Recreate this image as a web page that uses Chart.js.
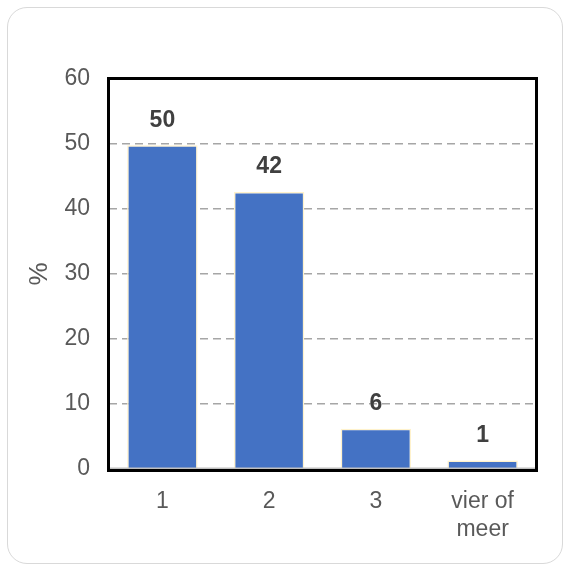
<!DOCTYPE html>
<html lang="nl">
<head>
    <meta charset="UTF-8">
    <title>Aantal</title>
    <script src="https://cdn.jsdelivr.net/npm/chart.js"></script>
    <style>
        html, body { margin: 0; padding: 0; background: #fff; }
        .card {
            position: absolute;
            left: 7px; top: 7px;
            width: 554px; height: 555px;
            border: 1px solid #d9d9d9;
            border-radius: 20px;
        }
        #chart { position: absolute; left: 0; top: 0; }
    </style>
</head>
<body>
    <div class="card"></div>
    <canvas id="chart" width="564" height="565"></canvas>

    <script>
        // data
        const categories = ['1', '2', '3', ['vier of', 'meer']];
        const percentages = [49.8, 42.6, 6.2, 1.3];
        const valueLabels = ['50', '42', '6', '1'];
        const yTicks = [0, 10, 20, 30, 40, 50, 60];

        Chart.defaults.font.family = '"Liberation Sans", Arial, sans-serif';

        // black frame round the plot area, gray axis line at the bottom
        const frame = {
            id: 'frame',
            afterDatasetsDraw(chart) {
                const {ctx, chartArea: a} = chart;
                ctx.save();
                ctx.strokeStyle = '#bfbfbf';
                ctx.lineWidth = 2;
                ctx.beginPath();
                ctx.moveTo(a.left, a.bottom - 0.5);
                ctx.lineTo(a.right, a.bottom - 0.5);
                ctx.stroke();
                ctx.strokeStyle = '#000';
                ctx.lineWidth = 3;
                ctx.strokeRect(a.left - 0.5, a.top - 0.5, a.right - a.left + 1, a.bottom - a.top + 2);
                ctx.restore();
            }
        };

        // value labels above the bars
        const barValues = {
            id: 'barValues',
            afterDatasetsDraw(chart) {
                const {ctx} = chart;
                const meta = chart.getDatasetMeta(0);
                ctx.save();
                ctx.font = 'bold 23px "Liberation Sans", Arial, sans-serif';
                ctx.fillStyle = '#404040';
                ctx.textAlign = 'center';
                ctx.textBaseline = 'middle';
                meta.data.forEach((bar, i) => {
                    ctx.fillText(valueLabels[i], bar.x, bar.y - 25);
                });
                ctx.restore();
            }
        };

        new Chart(document.getElementById('chart'), {
            type: 'bar',
            data: {
                labels: categories,
                datasets: [{
                    data: percentages,
                    backgroundColor: '#4472c4',
                    borderColor: '#fff2cc',
                    borderWidth: 1.5,
                    categoryPercentage: 1,
                    barPercentage: 0.66
                }]
            },
            options: {
                responsive: false,
                animation: false,
                layout: {padding: {left: 0, right: 28, top: 79, bottom: 0}},
                plugins: {
                    legend: {display: false},
                    tooltip: {enabled: false}
                },
                scales: {
                    x: {
                        grid: {display: false},
                        border: {display: false},
                        ticks: {
                            color: '#595959',
                            font: {size: 23, lineHeight: 1.2},
                            padding: 11,
                            maxRotation: 0
                        },
                        afterFit(scale) { scale.height = 96; }
                    },
                    y: {
                        min: 0,
                        max: 60,
                        afterBuildTicks(scale) {
                            scale.ticks = yTicks.map(v => ({value: v}));
                        },
                        grid: {
                            drawTicks: false,
                            lineWidth: 1.5,
                            color: ctx => (ctx.tick && ctx.tick.value > 0 && ctx.tick.value < 60) ? '#a6a6a6' : 'rgba(0,0,0,0)'
                        },
                        border: {display: false, dash: [8, 5]},
                        ticks: {
                            color: '#595959',
                            font: {size: 23},
                            padding: 19
                        },
                        title: {
                            display: true,
                            text: '%',
                            color: '#595959',
                            font: {size: 26},
                            padding: {top: 24, bottom: 0}
                        },
                        afterFit(scale) { scale.width = 109; }
                    }
                }
            },
            plugins: [frame, barValues]
        });
    </script>
</body>
</html>
